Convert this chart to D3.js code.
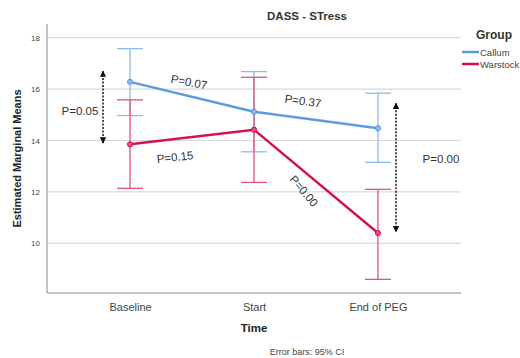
<!DOCTYPE html>
<html>
<head>
<meta charset="utf-8">
<script src="https://cdn.jsdelivr.net/npm/d3@7"></script>
<style>
  html, body { margin: 0; padding: 0; background: #fff; }
  svg { display: block; font-family: Arial, "Liberation Sans", sans-serif; }
</style>
</head>
<body>
<svg id="chart" width="520" height="358"></svg>
<script>
// Time points and group estimates (means with 95% CI bounds)
const timePoints = ["Baseline", "Start", "End of PEG"];
const groups = ["Callum", "Warstock"];
const callumMean = [16.28, 15.12, 14.48];
const callumLow = [14.97, 13.56, 13.15];
const callumHigh = [17.57, 16.68, 15.84];
const warstockMean = [13.85, 14.42, 10.40];
const warstockLow = [12.14, 12.37, 8.60];
const warstockHigh = [15.58, 16.46, 12.10];
const yTicks = [10, 12, 14, 16, 18];

const lineColors = { Callum: "#5b9be0", Warstock: "#d2144a" };
const barColors = { Callum: "#8cbbe9", Warstock: "#e2527c" };

const series = [
  { name: "Callum", mean: callumMean, low: callumLow, high: callumHigh },
  { name: "Warstock", mean: warstockMean, low: warstockLow, high: warstockHigh }
];

const svg = d3.select("#chart");
const plot = { left: 47, right: 461, top: 24, bottom: 293 };

const x = d3.scalePoint().domain(timePoints).range([plot.left, plot.right]).padding(0.67);
const y = d3.scaleLinear().domain([8.07, 18.53]).range([plot.bottom, plot.top]);

// Gridlines
svg.append("g").selectAll("line").data(yTicks).join("line")
  .attr("x1", plot.left).attr("x2", plot.right)
  .attr("y1", d => y(d)).attr("y2", d => y(d))
  .attr("stroke", "#d9d9d9").attr("stroke-width", 1.2);

// Axes
const yAxis = svg.append("g").attr("transform", `translate(${plot.left},0)`)
  .call(d3.axisLeft(y).tickValues(yTicks).tickSize(0).tickPadding(7));
yAxis.select(".domain").attr("stroke", "#8a8a8a").attr("d", `M0,${plot.top}V${plot.bottom}`);
yAxis.selectAll("text").attr("font-size", 8).attr("fill", "#444");

const xAxis = svg.append("g").attr("transform", `translate(0,${plot.bottom})`)
  .call(d3.axisBottom(x).tickSize(0).tickPadding(10));
xAxis.select(".domain").attr("stroke", "#8a8a8a").attr("d", `M${plot.left},0H${plot.right}`);
xAxis.selectAll("text").attr("font-size", 11).attr("fill", "#444");

// Error bars
const capHalf = 13;
series.forEach(s => {
  const g = svg.append("g").attr("stroke", barColors[s.name]).attr("stroke-width", 1.3);
  timePoints.forEach((t, i) => {
    const cx = x(t);
    g.append("line").attr("x1", cx).attr("x2", cx).attr("y1", y(s.low[i])).attr("y2", y(s.high[i]));
    g.append("line").attr("x1", cx - capHalf).attr("x2", cx + capHalf).attr("y1", y(s.low[i])).attr("y2", y(s.low[i]));
    g.append("line").attr("x1", cx - capHalf).attr("x2", cx + capHalf).attr("y1", y(s.high[i])).attr("y2", y(s.high[i]));
  });
});

// Mean lines with markers
const line = d3.line().x((d, i) => x(timePoints[i])).y(d => y(d));
series.forEach(s => {
  svg.append("path").datum(s.mean)
    .attr("d", line).attr("fill", "none")
    .attr("stroke", lineColors[s.name]).attr("stroke-width", 2.5);
  svg.append("g").selectAll("circle").data(s.mean).join("circle")
    .attr("cx", (d, i) => x(timePoints[i])).attr("cy", d => y(d)).attr("r", 2.6)
    .attr("fill", barColors[s.name]).attr("stroke", lineColors[s.name]).attr("stroke-width", 1);
});

// Titles
svg.append("text").attr("x", 307).attr("y", 20).attr("text-anchor", "middle")
  .attr("font-size", 11.5).attr("font-weight", "bold").attr("fill", "#333").text("DASS - STress");
svg.append("text").attr("x", 254).attr("y", 332).attr("text-anchor", "middle")
  .attr("font-size", 11.5).attr("font-weight", "bold").attr("fill", "#222").text("Time");
svg.append("text")
  .attr("transform", `translate(21,${(plot.top + plot.bottom) / 2}) rotate(-90)`)
  .attr("text-anchor", "middle").attr("font-size", 11).attr("font-weight", "bold").attr("fill", "#222")
  .text("Estimated Marginal Means");
svg.append("text").attr("x", 307).attr("y", 355).attr("text-anchor", "middle")
  .attr("font-size", 9).attr("fill", "#444").text("Error bars: 95% CI");

// Legend
const legend = svg.append("g");
legend.append("text").attr("x", 476).attr("y", 39).attr("font-size", 12).attr("font-weight", "bold")
  .attr("fill", "#333").text("Group");
groups.forEach((gName, i) => {
  const ly = 52 + i * 12;
  legend.append("line").attr("x1", 462).attr("x2", 479).attr("y1", ly).attr("y2", ly)
    .attr("stroke", lineColors[gName]).attr("stroke-width", 2.5);
  legend.append("text").attr("x", 480).attr("y", ly + 3.5).attr("font-size", 9.5)
    .attr("fill", "#444").text(gName);
});

// Comparison arrows (double-headed, dotted)
const defs = svg.append("defs");
defs.append("marker").attr("id", "tip").attr("viewBox", "0 0 10 10")
  .attr("refX", 9).attr("refY", 5).attr("markerWidth", 4).attr("markerHeight", 4)
  .attr("orient", "auto-start-reverse")
  .append("path").attr("d", "M0,0L10,5L0,10Z").attr("fill", "#111");

function dashedArrow(xPos, vTop, vBottom) {
  svg.append("line").attr("x1", xPos).attr("x2", xPos).attr("y1", y(vTop)).attr("y2", y(vBottom))
    .attr("stroke", "#222").attr("stroke-width", 1.6).attr("stroke-dasharray", "2,1.5")
    .attr("marker-start", "url(#tip)").attr("marker-end", "url(#tip)");
}
dashedArrow(103, 16.7, 13.9);
dashedArrow(396, 15.45, 10.45);

// P-value labels
const pLabels = [
  { text: "P=0.05", x: 80, y: 111, angle: 0 },
  { text: "P=0.07", x: 189, y: 82, angle: 11 },
  { text: "P=0.15", x: 175, y: 157, angle: -6 },
  { text: "P=0.37", x: 303, y: 101, angle: 8 },
  { text: "P=0.00", x: 441, y: 159, angle: 0 },
  { text: "P=0.00", x: 304, y: 191, angle: 50 }
];
svg.append("g").selectAll("text").data(pLabels).join("text")
  .attr("transform", d => `translate(${d.x},${d.y}) rotate(${d.angle})`)
  .attr("text-anchor", "middle").attr("dy", "0.35em")
  .attr("font-size", 11.5).attr("fill", "#333").text(d => d.text);
</script>
</body>
</html>
